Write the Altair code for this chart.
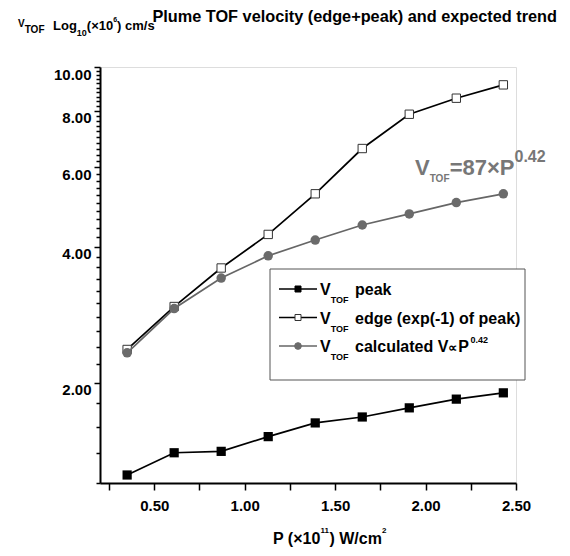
import altair as alt
import pandas as pd

# ---------------- data ----------------
P = [0.35, 0.61, 0.87, 1.13, 1.39, 1.65, 1.91, 2.17, 2.43]
v_peak = [1.25, 1.40, 1.41, 1.52, 1.63, 1.68, 1.76, 1.84, 1.90]
v_edge = [2.37, 2.95, 3.59, 4.26, 5.24, 6.60, 7.86, 8.53, 9.13]
v_calc = [2.33, 2.92, 3.41, 3.82, 4.14, 4.47, 4.73, 5.01, 5.24]

x_ticks = [0.25, 0.5, 0.75, 1.0, 1.25, 1.5, 1.75, 2.0, 2.25, 2.5]
y_ticks = [1.2, 1.4, 1.6, 1.8, 2.0, 2.2, 2.4, 2.6, 2.8, 3.0, 3.2, 3.4, 3.6, 3.8,
           4.0, 4.2, 4.4, 4.6, 4.8, 5.0, 5.2, 5.4, 5.6, 5.8, 6.0, 6.2, 6.4, 6.6,
           6.8, 7.0, 7.2, 7.4, 7.6, 7.8, 8.0, 8.2, 8.4, 8.6, 8.8, 9.0, 9.2, 9.4,
           9.6, 9.8, 10.0]

# ---------------- layout ----------------
OX, OY = 100, 67          # plot origin on the page
W, H = 416, 416
FONT = "Liberation Sans"

x_axis = alt.Axis(
    values=x_ticks,
    labelExpr="round(datum.value*100) % 50 == 0 ? format(datum.value, '.2f') : ''",
    tickSize=7, tickWidth=1.5, tickColor="black",
    domainWidth=2, domainColor="black",
    labelFontSize=15, labelFontWeight="bold", labelColor="black",
    labelPadding=8, labelFlush=False, labelOverlap=False,
    grid=False, title=None,
)
y_axis = alt.Axis(
    values=y_ticks,
    labelExpr="datum.value % 2 == 0 ? format(datum.value, '.2f') : ''",
    tickSize={"condition": {"test": "datum.value % 2 == 0", "value": 6}, "value": 4},
    tickWidth=1.5, tickColor="black",
    domainWidth=2, domainColor="black",
    labelFontSize=15, labelFontWeight="bold", labelColor="black",
    labelPadding=3, labelOffset=7, labelFlush=False, labelOverlap=False,
    grid=False, title=None,
)
xs = alt.Scale(domain=[0.2, 2.5], nice=False, zero=False)
ys = alt.Scale(type="log", domain=[1.2, 10], nice=False)


def enc(ch):
    return ch.encode(
        x=alt.X("P:Q", scale=xs, axis=x_axis),
        y=alt.Y("V:Q", scale=ys, axis=y_axis),
    )


peak_df = pd.DataFrame({"P": P, "V": v_peak})
edge_df = pd.DataFrame({"P": P, "V": v_edge})
calc_df = pd.DataFrame({"P": P, "V": v_calc})

layers = [
    enc(alt.Chart(peak_df).mark_line(color="black", strokeWidth=1.7)),
    enc(alt.Chart(peak_df).mark_point(shape="square", filled=True, color="black", size=85, opacity=1)),
    enc(alt.Chart(edge_df).mark_line(color="black", strokeWidth=1.7)),
    enc(alt.Chart(edge_df).mark_point(shape="square", filled=True, fill="white", stroke="#333",
                                      strokeWidth=1, size=70, opacity=1)),
    enc(alt.Chart(calc_df).mark_line(color="#666666", strokeWidth=1.7)),
    enc(alt.Chart(calc_df).mark_point(shape="circle", filled=True, color="#6b6b6b", size=90, opacity=1)),
]

# ---------------- text helpers ----------------
WID = {' ': 278, '(': 333, ')': 333, '×': 584, '.': 278, '/': 278, '=': 584, '+': 584,
       '-': 333, 'P': 667, 'W': 944, 'V': 667, 'T': 611, 'O': 778, 'F': 611, 'L': 611,
       'a': 556, 'c': 556, 'd': 611, 'e': 556, 'f': 333, 'g': 611, 'k': 556, 'l': 278,
       'm': 889, 'n': 611, 'o': 611, 'p': 611, 'r': 389, 's': 556, 't': 333, 'u': 611,
       'x': 556, 'i': 278, 'v': 556, 'y': 556, '∝': 760}
for d in "0123456789":
    WID[d] = 556


def tw(s, size):
    return sum(WID.get(c, 600) for c in s) * size / 1000.0


_one = pd.DataFrame({"a": [0]})


def text(s, x, y, size, color="black", align="left", weight="bold"):
    return alt.Chart(_one).mark_text(
        text=s, align=align, baseline="alphabetic", font=FONT, fontSize=size,
        fontWeight=weight, color=color,
    ).encode(x=alt.value(x - OX), y=alt.value(y - OY))


def flow(pieces, x, y, color="black"):
    """pieces: (text, size, dy[, dx]) written left to right from x on baseline y."""
    out = []
    for p in pieces:
        s, size, dy = p[:3]
        dx = p[3] if len(p) > 3 else 0
        x += dx
        out.append(text(s, x, y + dy, size, color))
        x += tw(s, size)
    return out


deco = []
# main title
deco.append(text("Plume TOF velocity (edge+peak) and expected trend", 557, 22, 16.3, align="right"))
# y-axis title
deco += flow([("V", 10, -3), ("TOF", 10, 3)], 18, 30)
deco += flow([("Log", 13, 0), ("10", 9, 6), ("(×10", 13, 0), ("6", 7, -8), (") cm/s", 13, 0)], 53, 30)
# x-axis title
deco += flow([("P (×10", 16, 0), ("11", 8, -11), (") W/cm", 16, 0), ("2", 8, -11)], 273, 544)
# annotation
GREY = "#777777"
deco += flow([("V", 22, 0), ("TOF", 10, 7), ("=87×P", 22, 0), ("0.42", 16, -13)], 415, 175, GREY)

# legend box
deco.append(alt.Chart(_one).mark_rect(fill="white", stroke="#555555", strokeWidth=1).encode(
    x=alt.value(270 - OX), x2=alt.value(525 - OX), y=alt.value(269 - OY), y2=alt.value(380 - OY)))

rows = [295, 323.5, 352]
sym = [
    dict(line="black", shape="square", fill="black", stroke="black", size=36),
    dict(line="black", shape="square", fill="white", stroke="#333333", size=36),
    dict(line="#666666", shape="circle", fill="#6b6b6b", stroke="#6b6b6b", size=45),
]
for b, sdef in zip(rows, sym):
    yy = b - 6
    deco.append(alt.Chart(_one).mark_rule(color=sdef["line"], strokeWidth=1.5).encode(
        x=alt.value(279 - OX), x2=alt.value(317 - OX), y=alt.value(yy - OY)))
    deco.append(alt.Chart(_one).mark_point(shape=sdef["shape"], filled=True, fill=sdef["fill"],
                                           stroke=sdef["stroke"], strokeWidth=1, size=sdef["size"],
                                           opacity=1).encode(
        x=alt.value(298 - OX), y=alt.value(yy - OY)))
    deco += flow([("V", 16, 0), ("TOF", 9, 8)], 320, b)

deco.append(text("peak", 355, rows[0], 16))
deco.append(text("edge (exp(-1) of peak)", 355, rows[1], 16))
deco += flow([("calculated V", 16, 0), ("∝", 13, 0), (" P", 16, 0), ("0.42", 9, -9, -3)], 355, rows[2])

chart = alt.layer(*layers, *deco).properties(
    width=W, height=H,
    autosize=alt.AutoSizeParams(type="none"),
    padding={"left": OX - 8, "top": OY - 8, "right": 554 - (OX - 8) - W, "bottom": 540 - (OY - 8) - H},
).configure_view(stroke=None).configure(font=FONT)

chart.save("out.html", embed_options={"renderer": "svg", "actions": False})
